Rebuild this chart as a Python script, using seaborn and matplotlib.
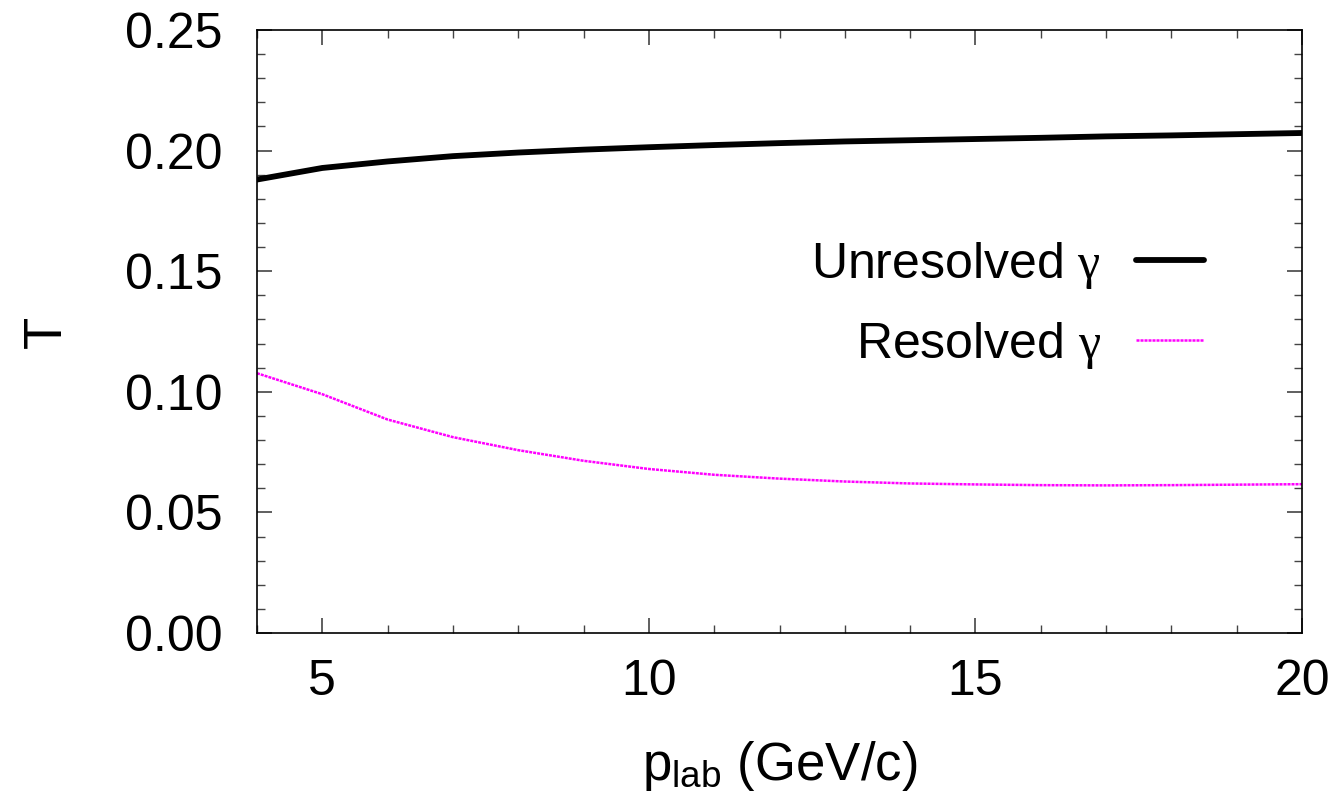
import numpy as np
import pandas as pd
import matplotlib
matplotlib.use("Agg")
import matplotlib.pyplot as plt
import seaborn as sns
from matplotlib.ticker import MultipleLocator, FormatStrFormatter
from matplotlib.lines import Line2D

# === DATI ===
p_lab = [4, 5, 6, 7, 8, 9, 10, 11, 12, 13, 14, 15, 16, 17, 18, 19, 20]
t_unresolved = [0.1880, 0.1928, 0.1955, 0.1977, 0.1992, 0.2004, 0.2014, 0.2023, 0.2031,
                0.2038, 0.2043, 0.2048, 0.2053, 0.2059, 0.2063, 0.2068, 0.2073]
t_resolved = [0.1077, 0.0990, 0.0885, 0.0812, 0.0758, 0.0714, 0.0680, 0.0656, 0.0640,
              0.0628, 0.0620, 0.0616, 0.0613, 0.0612, 0.0613, 0.0615, 0.0617]
etichette = [r"Unresolved $\gamma$", r"Resolved $\gamma$"]

df = pd.DataFrame({
    "p": p_lab * 2,
    "T": t_unresolved + t_resolved,
    "serie": [etichette[0]] * len(p_lab) + [etichette[1]] * len(p_lab),
})

sns.set_theme(style="ticks")
plt.rcParams["font.family"] = ["Liberation Sans", "DejaVu Sans"]
plt.rcParams["mathtext.fontset"] = "custom"
plt.rcParams["mathtext.rm"] = "Liberation Sans"
plt.rcParams["mathtext.it"] = "Liberation Serif"
plt.rcParams["mathtext.bf"] = "Liberation Sans:bold"
for k in ["text.color", "axes.labelcolor", "xtick.labelcolor", "ytick.labelcolor"]:
    plt.rcParams[k] = "black"

fig = plt.figure(figsize=(13.41, 7.93), dpi=100)
ax = fig.add_axes([257 / 1341, 160 / 793, 1045 / 1341, 603 / 793])

sns.lineplot(data=df, x="p", y="T", hue="serie", style="serie",
             palette={etichette[0]: "black", etichette[1]: "#ff00ff"},
             dashes={etichette[0]: "", etichette[1]: (1.2, 0.4)},
             size="serie", sizes={etichette[0]: 4.2, etichette[1]: 1.8},
             ax=ax, legend=False)

# legenda a mano (testo a sinistra, linea a destra)
handles = [Line2D([], [], color="black", lw=4.2),
           Line2D([], [], color="#ff00ff", lw=1.8, dashes=(1.2, 0.4))]
ax.legend(handles, etichette, frameon=False, markerfirst=False, fontsize=36,
          loc="upper right", bbox_to_anchor=(0.906, 0.652), handlelength=1.35,
          handletextpad=0.7, labelspacing=0.58, borderaxespad=0, borderpad=0)

ax.set_xlim(4, 20)
ax.set_ylim(0, 0.25)
ax.xaxis.set_major_locator(MultipleLocator(5))
ax.xaxis.set_minor_locator(MultipleLocator(1))
ax.yaxis.set_major_locator(MultipleLocator(0.05))
ax.yaxis.set_minor_locator(MultipleLocator(0.01))
ax.yaxis.set_major_formatter(FormatStrFormatter("%.2f"))
ax.tick_params(which="both", direction="in", top=True, right=True, labelsize=36,
               color="#444444")
ax.tick_params(which="major", length=11, width=1.2)
ax.tick_params(which="minor", length=6, width=1.0)
ax.tick_params(axis="x", which="major", pad=19)
ax.tick_params(axis="y", which="major", pad=25)
for s in ax.spines.values():
    s.set_linewidth(1.2)
    s.set_color("black")

ax.set_xlabel(r"p$_{\mathrm{lab}}$ (GeV/c)", fontsize=38, labelpad=24)
ax.set_ylabel("T", fontsize=38, labelpad=38)

fig.savefig("out.png", dpi=100)
